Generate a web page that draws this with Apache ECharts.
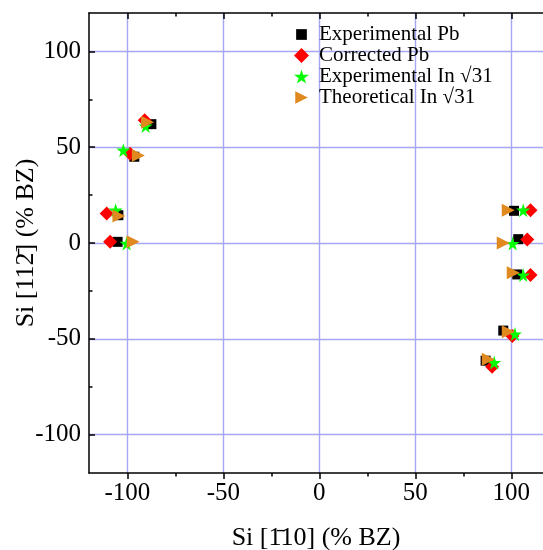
<!DOCTYPE html>
<html><head><meta charset="utf-8">
<script src="https://cdn.jsdelivr.net/npm/echarts@6/dist/echarts.min.js"></script>
<style>html,body{margin:0;padding:0;background:#fff}#c{width:543px;height:550px}</style>
</head><body><div id="c"></div>
<script>
const seriesNames = ['Experimental Pb', 'Corrected Pb', 'Experimental In \u221A31', 'Theoretical In \u221A31'];
const expPb = [[-87.5,62],[-96.4,45],[-104.7,14.5],[-105.1,0.6],[101.4,16.8],[103.6,2],[103.1,-16.4],[95.8,-45.7],[86.6,-61.4]];
const corrPb = [[-91,64],[-98.6,46.6],[-110.8,15.4],[-109,0.6],[110,17.1],[108.3,1.8],[110,-16.7],[100.5,-48.5],[90,-64.5]];
const expIn = [[-90.5,61],[-102.1,48.4],[-106.1,17.1],[-100.4,-0.2],[106.2,17.1],[100.7,-0.3],[106.2,-16.7],[101.9,-47.5],[91.1,-62.4]];
const theoIn = [[-89.5,63],[-94.3,45.7],[-104.4,14.1],[-97,0.6],[98.4,17.1],[95.8,0],[101,-15.5],[98.4,-46.3],[88,-60.7]];
const majorTicks = [-100,-50,0,50,100];
const minorTicks = [-100,-75,-50,-25,0,25,50,75,100];
const xTitle = 'Si [1\u030410] (% BZ)';
const yTitle = 'Si [112\u0304] (% BZ)';

const FONT = "'Liberation Serif','Times New Roman',serif";
const AXMIN_X = -120, AXMAX_X = 116.5, AXMIN_Y = -120, AXMAX_Y = 120;
const gridColor = '#a6a6f2';
const STAR = 'path://M50,0 L61,35 L98,35 L68,57 L79,91 L50,70 L21,91 L32,57 L2,35 L39,35 Z';
const TRI = 'path://M0,0 L10,5 L0,10 Z';
const SQ_LEG = 'path://M-2,-2 M12,12 M0,0 L10,0 L10,10 L0,10 Z';

function axisBase(extra){
  return Object.assign({type:'value', gridIndex:0}, extra);
}
const xAxes = [
  axisBase({position:'bottom', min:AXMIN_X, max:AXMAX_X,
    axisLine:{show:true, onZero:false, lineStyle:{color:'#000', width:1.5}},
    axisTick:{show:true, customValues:majorTicks, inside:false, length:6, lineStyle:{color:'#000', width:1.5}},
    axisLabel:{show:true, customValues:majorTicks, color:'#000', fontFamily:FONT, fontSize:25, margin:8},
    splitLine:{show:true, lineStyle:{color:gridColor, width:1.4}},
    name:xTitle, nameLocation:'middle', nameGap:52, nameTextStyle:{color:'#000', fontFamily:FONT, fontSize:26}}),
  axisBase({position:'bottom', min:AXMIN_X, max:AXMAX_X,
    axisLine:{show:false, onZero:false},
    axisTick:{show:true, customValues:minorTicks, inside:false, length:3.5, lineStyle:{color:'#000', width:1.5}},
    axisLabel:{show:false}, splitLine:{show:false}}),
  axisBase({position:'top', min:AXMIN_X, max:AXMAX_X,
    axisLine:{show:true, onZero:false, lineStyle:{color:'#000', width:1.5}},
    axisTick:{show:true, customValues:majorTicks, inside:true, length:6, lineStyle:{color:'#000', width:1.5}},
    axisLabel:{show:false}, splitLine:{show:false}}),
  axisBase({position:'top', min:AXMIN_X, max:AXMAX_X,
    axisLine:{show:false, onZero:false},
    axisTick:{show:true, customValues:minorTicks, inside:true, length:3.5, lineStyle:{color:'#000', width:1.5}},
    axisLabel:{show:false}, splitLine:{show:false}})
];
const yAxes = [
  axisBase({position:'left', min:AXMIN_Y, max:AXMAX_Y,
    axisLine:{show:true, onZero:false, lineStyle:{color:'#000', width:1.5}},
    axisTick:{show:true, customValues:majorTicks, inside:true, length:6, lineStyle:{color:'#000', width:1.5}},
    axisLabel:{show:true, customValues:majorTicks, color:'#000', fontFamily:FONT, fontSize:25, margin:8},
    splitLine:{show:true, lineStyle:{color:gridColor, width:1.4}},
    name:yTitle, nameLocation:'middle', nameGap:50, nameRotate:90, nameMoveOverlap:false,
    nameTextStyle:{color:'#000', fontFamily:FONT, fontSize:26}}),
  axisBase({position:'left', min:AXMIN_Y, max:AXMAX_Y,
    axisLine:{show:false, onZero:false},
    axisTick:{show:true, customValues:minorTicks, inside:true, length:3.5, lineStyle:{color:'#000', width:1.5}},
    axisLabel:{show:false}, splitLine:{show:false}})
];

const chart = echarts.init(document.getElementById('c'), null, {renderer:'canvas'});
chart.setOption({
  animation:false,
  backgroundColor:'#fff',
  grid:{left:89, right:0, top:13, bottom:77, containLabel:false, outerBoundsMode:'none'},
  xAxis:xAxes,
  yAxis:yAxes,
  legend:{
    orient:'vertical', left:294, top:24, padding:0, itemGap:0,
    itemWidth:15, itemHeight:15, symbolKeepAspect:true,
    textStyle:{color:'#000', fontFamily:FONT, fontSize:21, lineHeight:21, padding:[0,0,0,5]},
    data:[
      {name:seriesNames[0], icon:SQ_LEG},
      {name:seriesNames[1]},
      {name:seriesNames[2]},
      {name:seriesNames[3], icon:'path://M0,-1 M10,11 M0,0 L10,5 L0,10 Z'}
    ]
  },
  series:[
    {name:seriesNames[0], type:'scatter', data:expPb, symbol:'rect', symbolSize:10, itemStyle:{color:'#000', opacity:1}},
    {name:seriesNames[1], type:'scatter', data:corrPb, symbol:'diamond', symbolSize:14, itemStyle:{color:'#ff0000', opacity:1}},
    {name:seriesNames[2], type:'scatter', data:expIn, symbol:STAR, symbolSize:14, itemStyle:{color:'#00ff00', opacity:1}},
    {name:seriesNames[3], type:'scatter', data:theoIn, symbol:TRI, symbolSize:13, itemStyle:{color:'#e0891e', opacity:1}}
  ]
});
</script></body></html>
